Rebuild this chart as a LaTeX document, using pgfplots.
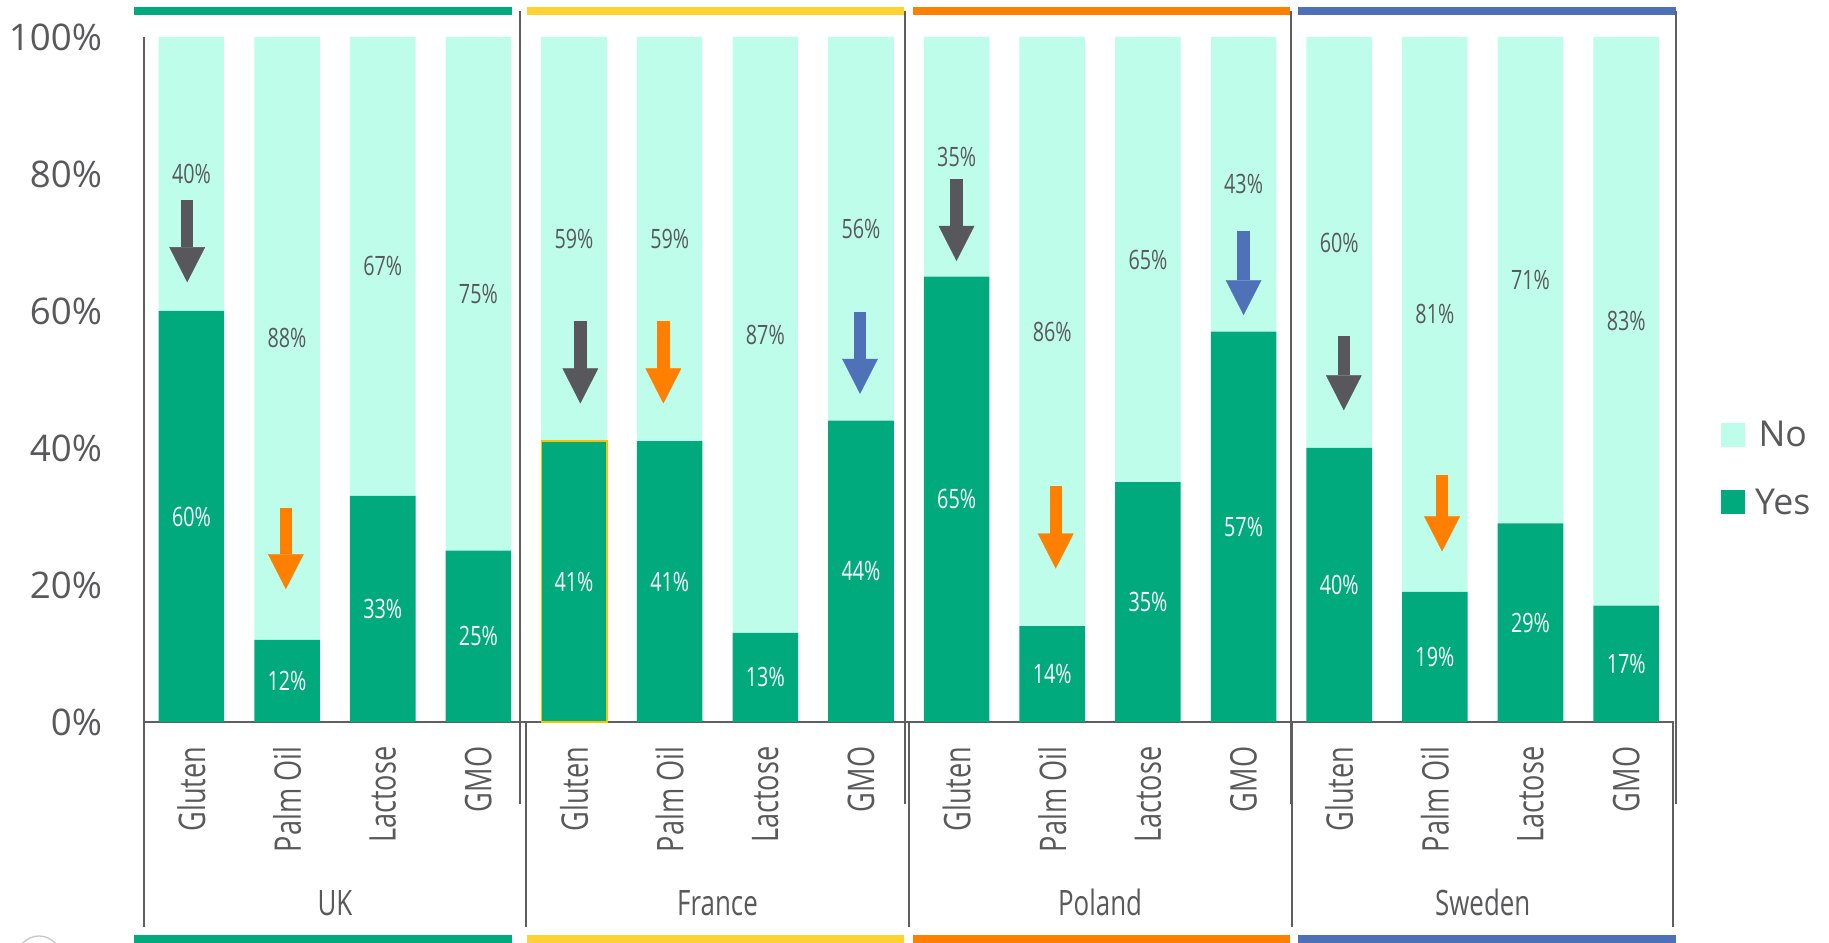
\documentclass[border=0pt]{standalone}
\usepackage{fontspec}
\setmainfont{Open Sans}
\newfontfamily\narrowfont[FakeStretch=0.74]{Open Sans}
\usepackage{pgfplots}
\pgfplotsset{compat=1.18}
\usepackage{pgfplotstable}
\usetikzlibrary{arrows.meta}

\definecolor{yesgreen}{RGB}{0,170,124}
\definecolor{nomint}{RGB}{190,253,234}
\definecolor{textgrey}{RGB}{89,89,91}
\definecolor{linegrey}{RGB}{95,95,98}
\definecolor{arrowgrey}{RGB}{88,87,92}
\definecolor{arroworange}{RGB}{255,127,0}
\definecolor{arrowblue}{RGB}{79,113,184}
\definecolor{bandyellow}{RGB}{253,210,50}
\definecolor{bandblue}{RGB}{78,112,182}
\definecolor{outlinegold}{RGB}{245,196,0}
\definecolor{ringgrey}{RGB}{200,200,200}

% share of respondents answering Yes / No, four countries x four ingredients
\pgfplotstableread{
x yes no
0 60 40
1 12 88
2 33 67
3 25 75
4 41 59
5 41 59
6 13 87
7 44 56
8 65 35
9 14 86
10 35 65
11 57 43
12 40 60
13 19 81
14 29 71
15 17 83
}\survey

% downward arrows: start point and (negative) length in percentage points
\pgfplotstableread{
x y v
-0.044 76.2 -12.0
4.066 58.6 -12.1
7.999 79.3 -12.0
12.048 56.4 -10.9
}\greyarrows
\pgfplotstableread{
x y v
0.987 31.3 -11.9
4.934 58.6 -12.1
9.036 34.4 -12.0
13.075 36.0 -11.1
}\orangearrows
\pgfplotstableread{
x y v
6.990 59.9 -12.0
11.000 71.7 -12.3
}\bluearrows

\pgfplotsset{
  panel/.style={
    scale only axis, width=459.12pt, height=205.5pt,
    at={(43.08pt,66.3pt)}, anchor=south west,
    xmin=-0.5, xmax=15.5, ymin=0, ymax=100, clip=false,
  },
  downarrow/.style={
    quiver={u=0, v=\thisrow{v}}, line width=3.7pt, line cap=butt,
    -{Triangle[length=10.5pt, width=10.7pt, line width=0.1pt]},
  },
}
\tikzset{
  groupname/.style={anchor=base, inner sep=0pt, text=textgrey,
    font=\narrowfont\fontsize{10.5}{12}\selectfont},
}

\begin{document}
\begin{tikzpicture}
\path[use as bounding box] (0,0) rectangle (548.7pt,282.9pt);

% stacked bars, axes and legend
\begin{axis}[panel,
  ybar stacked, bar width=0.686,
  axis x line*=bottom, axis y line*=left,
  axis line style={draw=linegrey, line width=0.6pt},
  major tick length=0pt,
  xtick={0,...,15},
  xticklabels={Gluten,Palm Oil,Lactose,GMO,Gluten,Palm Oil,Lactose,GMO,
               Gluten,Palm Oil,Lactose,GMO,Gluten,Palm Oil,Lactose,GMO},
  xticklabel style={rotate=90, anchor=east, inner sep=0pt,
    font=\narrowfont\fontsize{11}{13}\selectfont, text=textgrey},
  xticklabel shift=7.2pt,
  ytick={0,20,40,60,80,100},
  yticklabels={0\%,20\%,40\%,60\%,80\%,100\%},
  yticklabel style={font=\fontsize{11}{13}\selectfont, text=textgrey, inner sep=0pt},
  yticklabel shift=12.3pt,
  reverse legend,
  legend style={draw=none, fill=none, at={(rel axis cs:1.0308,0.4365)},
    anchor=north west, inner sep=0pt, outer sep=0pt, row sep=13pt, column sep=3pt,
    font=\fontsize{10.7}{12}\selectfont, text=textgrey,
    nodes={inner sep=0pt, text height=7.2pt, text depth=0pt}},
  legend image code/.code={\fill[#1] (0pt,-3.6pt) rectangle (7.2pt,3.6pt);},
]
\addplot[fill=yesgreen, draw=none] table[x=x, y=yes] {\survey};
\addplot[fill=nomint, draw=none] table[x=x, y=no] {\survey};
\legend{Yes,No}
\end{axis}

% value labels, arrows and group names
\begin{axis}[panel, hide axis, /pgf/number format/assume math mode=true]
\addplot[only marks, mark=*, mark size=0pt, mark options={draw=none, fill=none},
  point meta=explicit,
  nodes near coords={\pgfmathprintnumber{\pgfplotspointmeta}\%},
  every node near coord/.append style={anchor=center, inner sep=0pt, text=white,
    font=\narrowfont\fontsize{8}{9}\selectfont}]
  table[x=x, y expr=\thisrow{yes}/2, meta=yes] {\survey};
\addplot[only marks, mark=*, mark size=0pt, mark options={draw=none, fill=none},
  point meta=explicit,
  nodes near coords={\pgfmathprintnumber{\pgfplotspointmeta}\%},
  every node near coord/.append style={anchor=center, inner sep=0pt, text=textgrey,
    font=\narrowfont\fontsize{8}{9}\selectfont}]
  table[x=x, y expr=\thisrow{yes}+\thisrow{no}/2, meta=no] {\survey};

\addplot[downarrow, draw=arrowgrey, fill=arrowgrey] table[x=x, y=y] {\greyarrows};
\addplot[downarrow, draw=arroworange, fill=arroworange] table[x=x, y=y] {\orangearrows};
\addplot[downarrow, draw=arrowblue, fill=arrowblue] table[x=x, y=y] {\bluearrows};

\draw[outlinegold, line width=0.4pt] (axis cs:3.657,0) rectangle (axis cs:4.343,41);

\node[groupname] at (axis cs:1.5,-28.3) {UK};
\node[groupname] at (axis cs:5.5,-28.3) {France};
\node[groupname] at (axis cs:9.5,-28.3) {Poland};
\node[groupname] at (axis cs:13.5,-28.3) {Sweden};
\end{axis}

% frame lines, group bands
\begin{scope}[x=0.3pt, y=-0.3pt, shift={(0pt,282.9pt)}]
  \foreach \ya/\yb in {7/14.7, 935/946}{
    \fill[yesgreen]    (134,\ya)  rectangle (512,\yb);
    \fill[bandyellow]  (527,\ya)  rectangle (904,\yb);
    \fill[arroworange] (913,\ya)  rectangle (1290,\yb);
    \fill[bandblue]    (1298,\ya) rectangle (1676,\yb);
  }
  \foreach \lx in {519.7, 905.3, 1290.7, 1676.3}{
    \draw[linegrey, line width=0.55pt] (\lx,11) -- (\lx,804);
  }
  \foreach \lx in {143.6, 526, 909, 1291.7, 1673.3}{
    \draw[linegrey, line width=0.55pt] (\lx,722) -- (\lx,927);
  }
  \draw[ringgrey, line width=0.4pt] (39,958) circle[radius=6.6pt];
\end{scope}
\end{tikzpicture}
\end{document}
